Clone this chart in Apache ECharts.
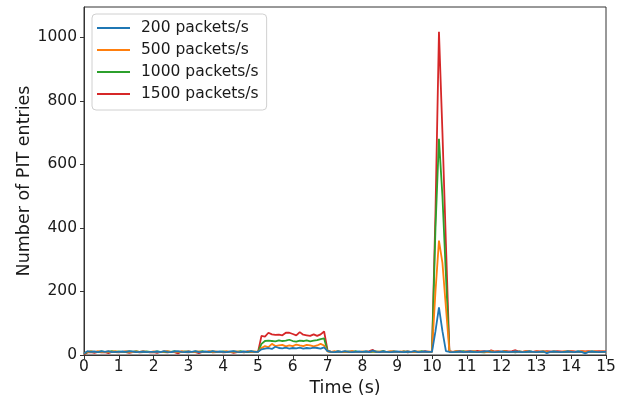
<!DOCTYPE html>
<html>
<head>
<meta charset="utf-8">
<script src="https://cdn.jsdelivr.net/npm/echarts@6/dist/echarts.min.js"></script>
<style>
  html, body { margin: 0; padding: 0; background: #fff; }
  #chart { width: 622px; height: 398px; }
</style>
</head>
<body>
<div id="chart"></div>
<script>
// samples every 0.1 s from 0 to 15 s (151 points)
const sampleStep = 0.1;

const names = ['200 packets/s', '500 packets/s', '1000 packets/s', '1500 packets/s'];
const colors = ['#1f77b4', '#ff7f0e', '#2ca02c', '#d62728'];

const rate200 = [
  5, 12, 10, 11, 9, 12, 10, 12, 9, 10,
  10, 11, 10, 12, 11, 9, 10, 11, 9, 10,
  10, 11, 9, 12, 10, 9, 11, 12, 10, 9,
  11, 10, 12, 9, 10, 11, 9, 12, 10, 11,
  10, 9, 11, 12, 10, 9, 11, 10, 12, 10,
  10, 18, 20, 22, 19, 26, 22, 21, 23, 20,
  22, 21, 23, 20, 22, 21, 23, 22, 20, 24,
  12, 10, 9, 11, 10, 12, 10, 9, 10, 11,
  10, 11, 9, 14, 10, 9, 11, 10, 9, 10,
  11, 10, 9, 11, 10, 12, 9, 10, 11, 10,
  10, 75, 150, 75, 12, 10, 9, 10, 11, 9,
  10, 11, 10, 9, 10, 11, 12, 10, 9, 10,
  11, 10, 9, 10, 11, 10, 9, 10, 11, 10,
  9, 10, 11, 6, 10, 11, 10, 9, 10, 11,
  10, 9, 11, 10, 5, 10, 11, 10, 9, 10,
  10
];

const rate500 = [
  6, 10, 11, 9, 12, 10, 9, 11, 10, 12,
  9, 10, 12, 10, 9, 11, 10, 12, 10, 9,
  11, 10, 9, 11, 12, 10, 9, 10, 11, 10,
  12, 9, 10, 11, 10, 9, 12, 10, 11, 9,
  10, 12, 9, 10, 11, 10, 9, 12, 10, 11,
  10, 22, 28, 25, 35, 28, 30, 32, 27, 30,
  28, 33, 30, 28, 32, 30, 27, 30, 35, 30,
  11, 10, 12, 9, 10, 11, 10, 12, 9, 10,
  11, 9, 10, 12, 10, 11, 9, 10, 12, 10,
  9, 11, 10, 12, 9, 10, 11, 10, 9, 11,
  10, 200, 360, 290, 150, 11, 10, 12, 9, 10,
  11, 10, 12, 9, 11, 10, 9, 12, 10, 11,
  10, 12, 9, 10, 11, 9, 10, 12, 10, 9,
  11, 10, 12, 10, 9, 11, 10, 9, 12, 10,
  11, 10, 9, 12, 10, 11, 10, 12, 9, 11,
  10
];

const rate1000 = [
  4, 9, 11, 10, 9, 11, 10, 9, 12, 10,
  11, 9, 10, 11, 10, 12, 9, 10, 11, 10,
  9, 11, 10, 9, 11, 10, 12, 9, 10, 11,
  10, 9, 11, 10, 12, 9, 10, 11, 9, 10,
  11, 10, 9, 11, 10, 12, 10, 9, 11, 10,
  10, 35, 44, 45, 44, 43, 46, 44, 45, 48,
  44, 42, 45, 44, 46, 43, 45, 47, 50, 52,
  12, 10, 9, 11, 10, 9, 11, 10, 12, 9,
  10, 11, 9, 10, 11, 10, 12, 9, 10, 11,
  10, 9, 11, 10, 9, 11, 10, 12, 9, 10,
  10, 400, 680, 500, 250, 10, 9, 11, 10, 12,
  9, 10, 11, 10, 9, 8, 10, 11, 10, 9,
  10, 11, 9, 10, 8, 11, 10, 9, 11, 10,
  9, 10, 11, 10, 9, 11, 10, 9, 10, 11,
  10, 9, 11, 10, 9, 10, 11, 10, 9, 10,
  10
];

const rate1500 = [
  2, 8, 9, 7, 10, 8, 9, 6, 10, 9,
  8, 10, 9, 7, 9, 10, 8, 9, 10, 8,
  9, 7, 10, 9, 8, 10, 9, 5, 11, 9,
  8, 10, 9, 6, 10, 9, 11, 8, 9, 10,
  8, 9, 10, 7, 9, 10, 8, 11, 9, 10,
  9, 60, 58, 70, 65, 63, 64, 62, 70, 70,
  66, 62, 72, 64, 62, 60, 65, 60, 65, 74,
  14, 10, 9, 11, 10, 9, 10, 11, 9, 10,
  9, 10, 12, 16, 9, 10, 11, 9, 10, 11,
  10, 9, 11, 8, 10, 11, 9, 10, 12, 10,
  10, 450, 1017, 700, 350, 12, 10, 11, 12, 10,
  11, 12, 10, 13, 11, 12, 10, 15, 11, 12,
  10, 13, 11, 12, 15, 11, 10, 12, 11, 10,
  12, 11, 10, 12, 11, 10, 12, 11, 10, 11,
  12, 11, 10, 12, 11, 12, 10, 11, 12, 11,
  11
];

const seriesValues = [rate200, rate500, rate1000, rate1500];

const xTickStep = 1;
const yTickStep = 200;

const chart = echarts.init(document.getElementById('chart'), null, { renderer: 'canvas' });

const font = 'DejaVu Sans';

const option = {
  backgroundColor: '#fff',
  animation: false,
  color: colors,
  grid: {
    left: 84, right: 16, top: 7, bottom: 43,
    containLabel: false,
    outerBoundsMode: 'none',
    show: true, borderColor: '#333', borderWidth: 1, backgroundColor: 'transparent'
  },
  legend: {
    orient: 'vertical',
    left: 92, top: 14,
    data: names,
    icon: 'rect',
    itemWidth: 33, itemHeight: 2,
    itemGap: 6,
    padding: [6, 8, 8, 5],
    backgroundColor: '#fff',
    borderColor: '#d0d0d0', borderWidth: 1, borderRadius: 4,
    textStyle: { fontFamily: font, fontSize: 15.5, color: '#1a1a1a', lineHeight: 16, padding: [0, 0, 0, 6] }
  },
  xAxis: {
    type: 'value', min: 0, max: 15, interval: xTickStep,
    name: 'Time (s)', nameLocation: 'middle', nameGap: 19,
    nameTextStyle: { fontFamily: font, fontSize: 17.5, color: '#1a1a1a' },
    axisLine: { show: true, onZero: false, lineStyle: { color: '#333', width: 1 } },
    axisTick: { show: true, length: 4, lineStyle: { color: '#333' } },
    axisLabel: { fontFamily: font, fontSize: 15.5, color: '#1a1a1a', margin: 4 },
    splitLine: { show: false }
  },
  yAxis: {
    type: 'value', min: 0, max: 1095, interval: yTickStep,
    name: 'Number of PIT entries', nameLocation: 'middle', nameGap: 51,
    nameMoveOverlap: false,
    nameTextStyle: { fontFamily: font, fontSize: 17.5, color: '#1a1a1a' },
    axisLine: { show: true, lineStyle: { color: '#333', width: 1 } },
    axisTick: { show: true, length: 4, lineStyle: { color: '#333' } },
    axisLabel: {
      fontFamily: font, fontSize: 15.5, color: '#1a1a1a', margin: 7, showMaxLabel: false,
      formatter: (v) => String(v)
    },
    splitLine: { show: false }
  },
  series: seriesValues.map((vals, k) => ({
    name: names[k],
    type: 'line',
    showSymbol: false,
    symbol: 'none',
    z: 5 - k,
    lineStyle: { width: 1.8, color: colors[k] },
    data: vals.map((v, i) => [+(i * sampleStep).toFixed(1), v])
  }))
};

chart.setOption(option);
</script>
</body>
</html>
